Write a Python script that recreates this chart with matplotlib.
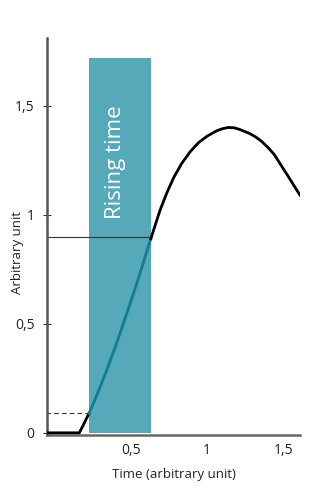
import matplotlib.pyplot as plt
from matplotlib.patches import Rectangle

# signal
t = [-0.05, 0.16, 0.224, 0.26, 0.30, 0.35, 0.39, 0.43, 0.47, 0.515, 0.55,
     0.58, 0.61, 0.63, 0.658, 0.69, 0.735, 0.78, 0.833, 0.89, 0.943, 1.0,
     1.064, 1.10, 1.14, 1.18, 1.217, 1.28, 1.32, 1.36, 1.40, 1.44, 1.52, 1.61]
v = [0.0, 0.0, 0.09, 0.148, 0.216, 0.306, 0.382, 0.462, 0.544, 0.638, 0.713,
     0.779, 0.847, 0.89, 0.951, 1.02, 1.10, 1.17, 1.235, 1.29, 1.33, 1.36,
     1.385, 1.394, 1.40, 1.398, 1.39, 1.372, 1.356, 1.335, 1.308, 1.277,
     1.19, 1.09]
rise_start, rise_end = 0.224, 0.63
low_level, high_level = 0.09, 0.90
rect_top = 1.72
xticks = [0.5, 1.0, 1.5]
xticklabels = ['0,5', '1', '1,5']
yticks = [0, 0.5, 1.0, 1.5]
yticklabels = ['0', '0,5', '1', '1,5']

plt.rcParams['font.family'] = ['Open Sans', 'DejaVu Sans']
fig = plt.figure(figsize=(3.23, 5.0), dpi=100)
ax = fig.add_axes([0.1455, 0.13, 0.783, 0.794])

rect = Rectangle((rise_start, 0), rise_end - rise_start, rect_top,
                 facecolor='#55a9b8', edgecolor='none', zorder=1)
ax.add_patch(rect)
ax.text((rise_start + rise_end) / 2 - 0.03, 1.24, 'Rising time', rotation=90,
        color='white', fontsize=16, ha='center', va='center', zorder=2)

ax.plot([-0.06, rise_end], [high_level] * 2, color='#333333', lw=0.8, zorder=2)
ax.plot([-0.06, rise_start], [low_level] * 2, color='#333333', lw=0.8,
        ls=(0, (4, 3)), zorder=2)

# split the curve: black outside the rising window, teal inside
i0 = t.index(rise_start)
i1 = t.index(rise_end)
ax.plot(t[:i0 + 1], v[:i0 + 1], color='black', lw=2.0, zorder=3)
ax.plot(t[i0:i1 + 1], v[i0:i1 + 1], color='#0f7d92', lw=2.0, zorder=3)
ax.plot(t[i1:], v[i1:], color='black', lw=2.0, zorder=3)

ax.set_xlim(-0.053, 1.61)
ax.set_ylim(-0.01, 1.81)
for s in ['top', 'right']:
    ax.spines[s].set_visible(False)
ax.spines['left'].set_color('#555555')
ax.spines['left'].set_linewidth(1.8)
ax.spines['bottom'].set_color('#666666')
ax.spines['bottom'].set_linewidth(1.8)

ax.set_xticks(xticks)
ax.set_xticklabels(xticklabels, fontsize=10, color='#222222')
ax.tick_params(axis='x', length=0, pad=6)
ax.set_yticks(yticks)
ax.set_yticklabels(yticklabels, fontsize=10, color='#222222')
ax.tick_params(axis='y', direction='inout', length=6, width=0.8,
               color='#333333', pad=6)
ax.set_xlabel('Time (arbitrary unit)', fontsize=9.5, color='#222222', labelpad=7)
ax.text(-0.115, 0.46, 'Arbitrary unit', transform=ax.transAxes, rotation=90,
        fontsize=9.5, color='#222222', ha='center', va='center')

fig.savefig('out.png', dpi=100)
